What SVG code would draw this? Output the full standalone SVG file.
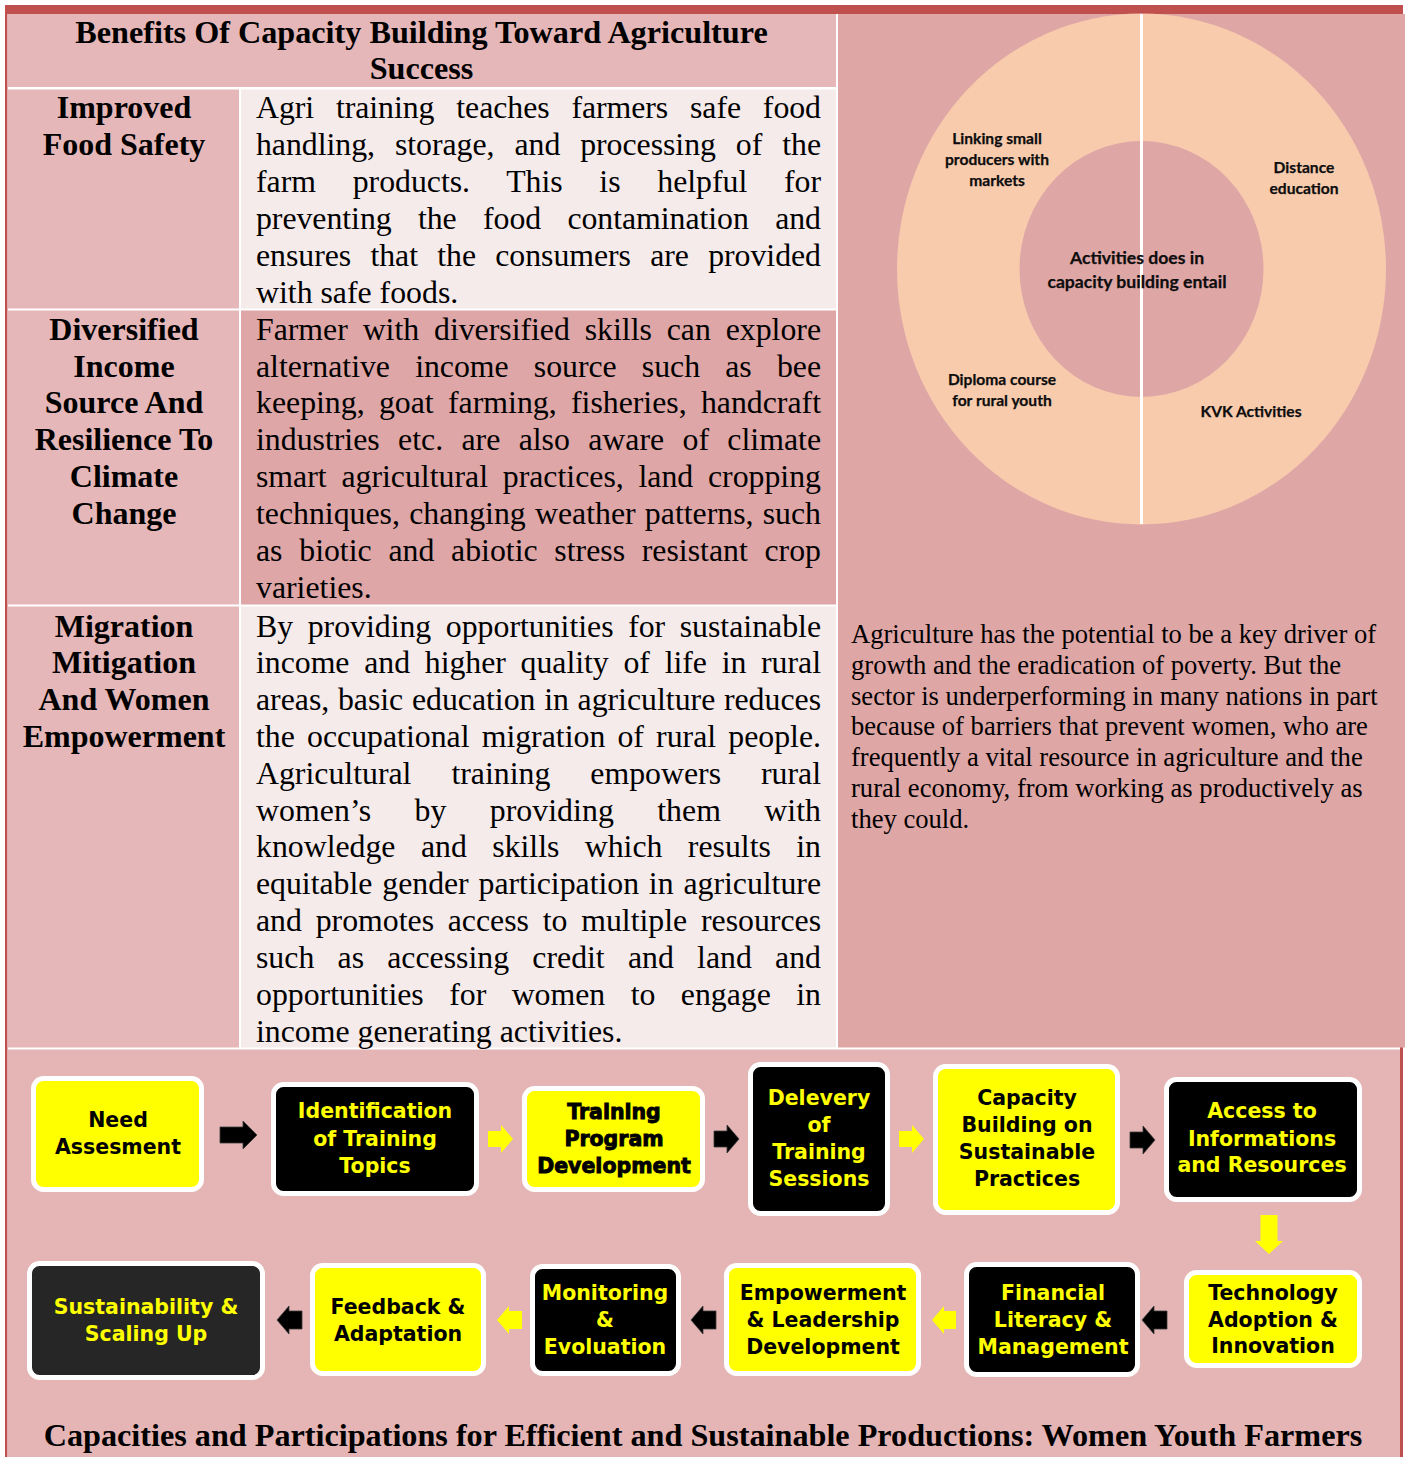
<svg xmlns="http://www.w3.org/2000/svg" width="1405" height="1457" viewBox="0 0 1405 1457">
  <style>
    .serif { font-family: "Liberation Serif", "Times New Roman", serif; fill: #000; }
    .hd { font-size: 32.2px; font-weight: bold; text-anchor: middle; }
    .lbl { font-size: 32px; font-weight: bold; text-anchor: middle; }
    .body { font-size: 31.8px; }
    .side { font-size: 26.6px; }
    .ring { font-family: Lato, "Open Sans", sans-serif; font-weight: bold; fill: #0d0d0d; text-anchor: middle; stroke: #0d0d0d; stroke-width: 0.25px; }
    .ring-o { font-size: 15.6px; }
    .ring-i { font-size: 17.6px; }
    .box { stroke: #ffffff; stroke-width: 5; }
    .yel { fill: #ffff00; }
    .blk { fill: #000000; }
    .dark { fill: #262626; }
    .bt { font-family: "DejaVu Sans", Verdana, sans-serif; font-weight: bold; font-size: 20.5px; text-anchor: middle; }
    .bt-k { fill: #000000; }
    .bt-y { fill: #ffff00; }
    .heavy { stroke: #000000; stroke-width: 0.9px; }
    .arr-k { fill: #000000; stroke: #3a3a3a; stroke-width: 0.8; }
    .arr-y { fill: #ffff00; }
  </style>

  <!-- page and frame -->
  <rect x="0" y="0" width="1405" height="1457" fill="#ffffff"/>
  <rect x="5" y="5" width="1398" height="9" fill="#c0504d"/>
  <rect x="5" y="5" width="2.5" height="1452" fill="#c0504d"/>
  <rect x="1400" y="5" width="3" height="1452" fill="#c0504d"/>

  <!-- benefits table -->
  <g id="table">
    <rect x="7.5" y="14" width="828.5" height="73" fill="#e6b7b8"/>
    <rect x="7.5" y="89.5" width="231.5" height="219" fill="#e6b7b8"/>
    <rect x="241" y="89.5" width="595" height="219" fill="#f6ebeb"/>
    <rect x="7.5" y="310.5" width="231.5" height="294" fill="#e6b7b8"/>
    <rect x="241" y="310.5" width="595" height="294" fill="#dea6a6"/>
    <rect x="7.5" y="606.5" width="231.5" height="441" fill="#e6b7b8"/>
    <rect x="241" y="606.5" width="595" height="441" fill="#f6ebeb"/>

    <text class="serif hd" x="421.5" y="43">Benefits Of Capacity Building Toward Agriculture</text>
    <text class="serif hd" x="421.5" y="79">Success</text>

    <g id="row-food-safety">
      <text class="serif lbl" x="124" y="118">Improved</text>
      <text class="serif lbl" x="124" y="155">Food Safety</text>
      <text class="serif body" x="256" y="118" word-spacing="14" textLength="565" lengthAdjust="spacing">Agri training teaches farmers safe food</text>
      <text class="serif body" x="256" y="155" word-spacing="12" textLength="565" lengthAdjust="spacing">handling, storage, and processing of the</text>
      <text class="serif body" x="256" y="192" word-spacing="28.8" textLength="565" lengthAdjust="spacing">farm products. This is helpful for</text>
      <text class="serif body" x="256" y="229" word-spacing="18.4" textLength="565" lengthAdjust="spacing">preventing the food contamination and</text>
      <text class="serif body" x="256" y="266" word-spacing="11.3" textLength="565" lengthAdjust="spacing">ensures that the consumers are provided</text>
      <text class="serif body" x="256" y="303">with safe foods.</text>
    </g>

    <g id="row-income">
      <text class="serif lbl" x="124" y="340">Diversified</text>
      <text class="serif lbl" x="124" y="377">Income</text>
      <text class="serif lbl" x="124" y="413">Source And</text>
      <text class="serif lbl" x="124" y="450">Resilience To</text>
      <text class="serif lbl" x="124" y="487">Climate</text>
      <text class="serif lbl" x="124" y="524">Change</text>
      <text class="serif body" x="256" y="340" word-spacing="7" textLength="565" lengthAdjust="spacing">Farmer with diversified skills can explore</text>
      <text class="serif body" x="256" y="377" word-spacing="17.3" textLength="565" lengthAdjust="spacing">alternative income source such as bee</text>
      <text class="serif body" x="256" y="413" word-spacing="6.4" textLength="565" lengthAdjust="spacing">keeping, goat farming, fisheries, handcraft</text>
      <text class="serif body" x="256" y="450" word-spacing="10.4" textLength="565" lengthAdjust="spacing">industries etc. are also aware of climate</text>
      <text class="serif body" x="256" y="487" word-spacing="6.8" textLength="565" lengthAdjust="spacing">smart agricultural practices, land cropping</text>
      <text class="serif body" x="256" y="524" word-spacing="1.3" textLength="565" lengthAdjust="spacing">techniques, changing weather patterns, such</text>
      <text class="serif body" x="256" y="561" word-spacing="8.8" textLength="565" lengthAdjust="spacing">as biotic and abiotic stress resistant crop</text>
      <text class="serif body" x="256" y="598">varieties.</text>
    </g>

    <g id="row-migration">
      <text class="serif lbl" x="124" y="637">Migration</text>
      <text class="serif lbl" x="124" y="673">Mitigation</text>
      <text class="serif lbl" x="124" y="710">And Women</text>
      <text class="serif lbl" x="124" y="747">Empowerment</text>
      <text class="serif body" x="256" y="637" word-spacing="6.6" textLength="565" lengthAdjust="spacing">By providing opportunities for sustainable</text>
      <text class="serif body" x="256" y="673" word-spacing="6.8" textLength="565" lengthAdjust="spacing">income and higher quality of life in rural</text>
      <text class="serif body" x="256" y="710" word-spacing="0.7" textLength="565" lengthAdjust="spacing">areas, basic education in agriculture reduces</text>
      <text class="serif body" x="256" y="747" word-spacing="4.2" textLength="565" lengthAdjust="spacing">the occupational migration of rural people.</text>
      <text class="serif body" x="256" y="784" word-spacing="32" textLength="565" lengthAdjust="spacing">Agricultural training empowers rural</text>
      <text class="serif body" x="256" y="821" word-spacing="35.3" textLength="565" lengthAdjust="spacing">women’s by providing them with</text>
      <text class="serif body" x="256" y="857" word-spacing="17.5" textLength="565" lengthAdjust="spacing">knowledge and skills which results in</text>
      <text class="serif body" x="256" y="894" word-spacing="1.9" textLength="565" lengthAdjust="spacing">equitable gender participation in agriculture</text>
      <text class="serif body" x="256" y="931" word-spacing="5.8" textLength="565" lengthAdjust="spacing">and promotes access to multiple resources</text>
      <text class="serif body" x="256" y="968" word-spacing="15.3" textLength="565" lengthAdjust="spacing">such as accessing credit and land and</text>
      <text class="serif body" x="256" y="1005" word-spacing="17.5" textLength="565" lengthAdjust="spacing">opportunities for women to engage in</text>
      <text class="serif body" x="256" y="1042">income generating activities.</text>
    </g>
  </g>

  <!-- activities ring and side note -->
  <g id="activities-panel">
    <rect x="838" y="14" width="1562" height="1033.5" fill="#dfa6a6"/>
    <ellipse cx="1141.5" cy="269" rx="244.5" ry="255.5" fill="#f8cbad"/>
    <ellipse cx="1141.5" cy="269" rx="122" ry="128" fill="#dfa6a6"/>
    <line x1="1141.5" y1="14" x2="1141.5" y2="524" stroke="#ffffff" stroke-width="3"/>

    <g id="ring-linking">
      <text class="ring ring-o" x="997" y="144">Linking small</text>
      <text class="ring ring-o" x="997" y="165">producers with</text>
      <text class="ring ring-o" x="997" y="186">markets</text>
    </g>
    <g id="ring-distance">
      <text class="ring ring-o" x="1304" y="173">Distance</text>
      <text class="ring ring-o" x="1304" y="194">education</text>
    </g>
    <g id="ring-center">
      <text class="ring ring-i" x="1137" y="264">Activities does in</text>
      <text class="ring ring-i" x="1137" y="288">capacity building entail</text>
    </g>
    <g id="ring-diploma">
      <text class="ring ring-o" x="1002" y="385">Diploma course</text>
      <text class="ring ring-o" x="1002" y="406">for rural youth</text>
    </g>
    <g id="ring-kvk">
      <text class="ring ring-o" x="1251" y="417">KVK Activities</text>
    </g>

    <g id="side-note">
      <text class="serif side" x="851" y="643">Agriculture has the potential to be a key driver of</text>
      <text class="serif side" x="851" y="674">growth and the eradication of poverty. But the</text>
      <text class="serif side" x="851" y="705">sector is underperforming in many nations in part</text>
      <text class="serif side" x="851" y="735">because of barriers that prevent women, who are</text>
      <text class="serif side" x="851" y="766">frequently a vital resource in agriculture and the</text>
      <text class="serif side" x="851" y="797">rural economy, from working as productively as</text>
      <text class="serif side" x="851" y="828">they could.</text>
    </g>
  </g>

  <!-- capacity building process flow -->
  <rect x="7.5" y="1049.5" width="1392.5" height="407.5" fill="#e5b5b5"/>

  <g id="connectors">
    <polygon class="arr-k" points="220,1127 243,1127 243,1121 257,1135 243,1149 243,1143 220,1143"/>
    <polygon class="arr-y" points="488,1131 501,1131 501,1125 513,1139 501,1153 501,1147 488,1147"/>
    <polygon class="arr-k" points="714,1131 727,1131 727,1125 739,1139 727,1153 727,1147 714,1147"/>
    <polygon class="arr-y" points="899,1131 912,1131 912,1125 924,1139 912,1153 912,1147 899,1147"/>
    <polygon class="arr-k" points="1130,1132 1143,1132 1143,1126 1155,1140 1143,1154 1143,1148 1130,1148"/>
    <polygon class="arr-y" points="1260.5,1215 1277.5,1215 1277.5,1241 1283,1241 1269,1254 1255,1241 1260.5,1241"/>
    <polygon class="arr-k" points="1167,1311 1154,1311 1154,1306 1142,1320 1154,1334 1154,1329 1167,1329"/>
    <polygon class="arr-y" points="956,1311 944,1311 944,1306 932,1320 944,1334 944,1329 956,1329"/>
    <polygon class="arr-k" points="716,1311 703,1311 703,1306 691,1320 703,1334 703,1329 716,1329"/>
    <polygon class="arr-y" points="522,1311 509,1311 509,1306 497,1320 509,1334 509,1329 522,1329"/>
    <polygon class="arr-k" points="302,1311 289,1311 289,1306 277,1320 289,1334 289,1329 302,1329"/>
  </g>

  <g id="node-need">
    <rect class="box yel" x="33.5" y="1078.5" width="168" height="111" rx="10"/>
    <text class="bt bt-k" x="118" y="1127">Need</text>
    <text class="bt bt-k" x="118" y="1154">Assesment</text>
  </g>
  <g id="node-identification">
    <rect class="box blk" x="273.5" y="1084.5" width="203" height="109" rx="10"/>
    <text class="bt bt-y" x="375" y="1118">Identification</text>
    <text class="bt bt-y" x="375" y="1146">of Training</text>
    <text class="bt bt-y" x="375" y="1173">Topics</text>
  </g>
  <g id="node-program">
    <rect class="box yel" x="524.5" y="1088.5" width="178" height="101" rx="10"/>
    <text class="bt bt-k heavy" x="614" y="1119">Training</text>
    <text class="bt bt-k heavy" x="614" y="1146">Program</text>
    <text class="bt bt-k heavy" x="614" y="1173">Development</text>
  </g>
  <g id="node-delivery">
    <rect class="box blk" x="750.5" y="1064.5" width="137" height="149" rx="10"/>
    <text class="bt bt-y" x="819" y="1105">Delevery</text>
    <text class="bt bt-y" x="819" y="1132">of</text>
    <text class="bt bt-y" x="819" y="1159">Training</text>
    <text class="bt bt-y" x="819" y="1186">Sessions</text>
  </g>
  <g id="node-sustainable">
    <rect class="box yel" x="935.5" y="1066.5" width="182" height="146" rx="10"/>
    <text class="bt bt-k" x="1027" y="1105">Capacity</text>
    <text class="bt bt-k" x="1027" y="1132">Building on</text>
    <text class="bt bt-k" x="1027" y="1159">Sustainable</text>
    <text class="bt bt-k" x="1027" y="1186">Practices</text>
  </g>
  <g id="node-access">
    <rect class="box blk" x="1166.5" y="1079.5" width="193" height="120" rx="10"/>
    <text class="bt bt-y" x="1262" y="1118">Access to</text>
    <text class="bt bt-y" x="1262" y="1146">Informations</text>
    <text class="bt bt-y" x="1262" y="1172">and Resources</text>
  </g>
  <g id="node-technology">
    <rect class="box yel" x="1186.5" y="1272.5" width="173" height="93" rx="10"/>
    <text class="bt bt-k" x="1273" y="1300">Technology</text>
    <text class="bt bt-k" x="1273" y="1327">Adoption &amp;</text>
    <text class="bt bt-k" x="1273" y="1353">Innovation</text>
  </g>
  <g id="node-financial">
    <rect class="box blk" x="966.5" y="1264.5" width="171" height="110" rx="10"/>
    <text class="bt bt-y" x="1053" y="1300">Financial</text>
    <text class="bt bt-y" x="1053" y="1327">Literacy &amp;</text>
    <text class="bt bt-y" x="1053" y="1354">Management</text>
  </g>
  <g id="node-empowerment">
    <rect class="box yel" x="726.5" y="1265.5" width="192" height="108" rx="10"/>
    <text class="bt bt-k" x="823" y="1300">Empowerment</text>
    <text class="bt bt-k" x="823" y="1327">&amp; Leadership</text>
    <text class="bt bt-k" x="823" y="1354">Development</text>
  </g>
  <g id="node-monitoring">
    <rect class="box blk" x="532.5" y="1266.5" width="146" height="107" rx="10"/>
    <text class="bt bt-y" x="605" y="1300">Monitoring</text>
    <text class="bt bt-y" x="605" y="1327">&amp;</text>
    <text class="bt bt-y" x="605" y="1354">Evoluation</text>
  </g>
  <g id="node-feedback">
    <rect class="box yel" x="312.5" y="1265.5" width="171" height="108" rx="10"/>
    <text class="bt bt-k" x="398" y="1314">Feedback &amp;</text>
    <text class="bt bt-k" x="398" y="1341">Adaptation</text>
  </g>
  <g id="node-scaling">
    <rect class="box dark" x="29.5" y="1263.5" width="233" height="114" rx="10"/>
    <text class="bt bt-y" x="146" y="1314">Sustainability &amp;</text>
    <text class="bt bt-y" x="146" y="1341">Scaling Up</text>
  </g>

  <text class="serif hd" x="703" y="1446">Capacities and Participations for Efficient and Sustainable Productions: Women Youth Farmers</text>
</svg>
